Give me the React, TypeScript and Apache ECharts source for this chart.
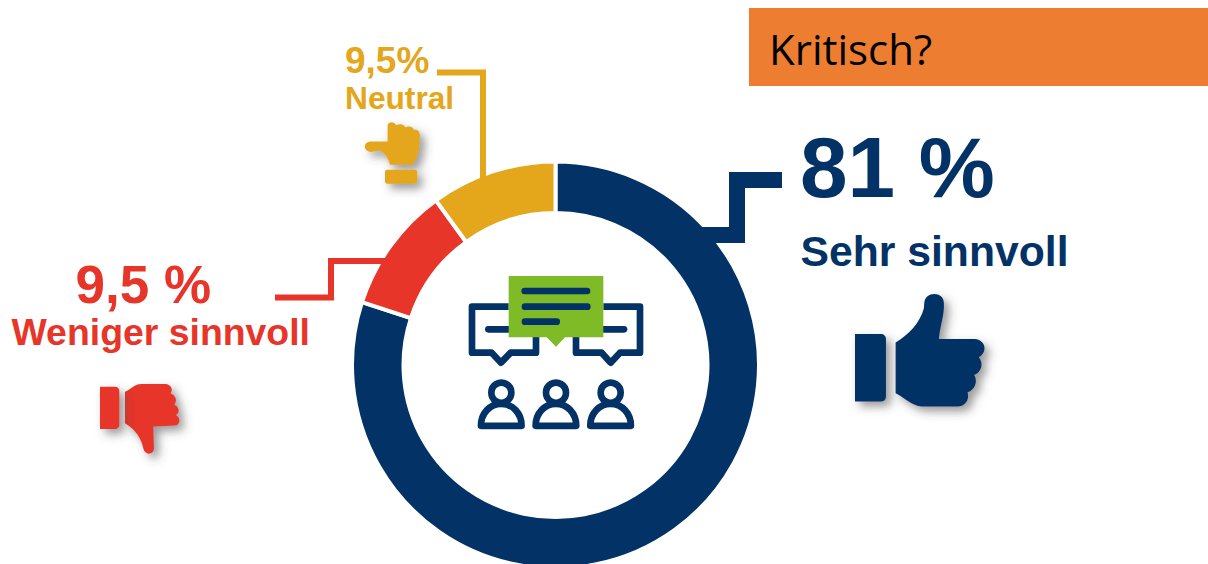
import React, { useEffect, useRef } from "react";
import * as echarts from "echarts";

const categories = ["Sehr sinnvoll", "Weniger sinnvoll", "Neutral"];
const sliceValues = [80, 10, 10];
const percentLabels = ["81 %", "9,5 %", "9,5%"];
const titleText = "Kritisch?";

const NAVY = "#033266";
const RED = "#E73529";
const GOLD = "#E4A61B";
const GREEN = "#7FBA27";
const ORANGE = "#ED7D31";

const thumbUpHand =
  "M167 188 C205 165 240 130 252 85 L253 70 C255 33 312 33 312 70 C314 105 300 140 297 177 L405 177 C437 180 445 215 417 232 C432 250 425 278 403 285 C415 305 405 330 383 337 C390 360 375 380 352 380 L245 380 C210 375 190 350 167 340 Z";
const thumbUpCuff = "M45 162 L122 162 C132 162 138 168 138 178 L138 350 C138 360 132 365 122 365 L45 365 Z";
const thumbDownHand =
  "M135 65 C150 62 160 42 185 42 L258 42 C275 45 280 60 272 70 C290 78 292 95 283 104 C300 112 300 128 288 135 C305 145 300 165 285 167 L220 170 L222 235 C222 255 195 258 190 235 C185 210 170 180 135 160 Z";
const thumbDownCuff = "M60 50 L105 50 C113 50 118 55 118 63 L118 165 C118 172 113 177 105 177 L60 177 Z";
const neutralHand =
  "M173 285 C178 272 195 276 199 286 C212 280 222 284 226 292 C240 286 250 292 252 300 C264 298 270 306 270 318 L268 350 C266 378 254 395 250 405 L180 405 C176 385 165 370 150 362 L122 366 C100 364 98 338 120 335 L173 335 Z";
const neutralCuff = "M172 420 L255 420 C260 420 262 423 262 428 L262 452 C262 458 258 462 252 462 L172 462 C167 462 165 458 165 453 L165 428 C165 423 167 420 172 420 Z";
const dome = "M123 498 C123 460 150 432 184 432 C218 432 245 460 245 498 Z";

const shapes: Record<string, string> = {
  thumbUpHand, thumbUpCuff, thumbDownHand, thumbDownCuff, neutralHand, neutralCuff, dome,
};
Object.keys(shapes).forEach((k) => {
  echarts.graphic.registerShape(k, echarts.graphic.extendPath(shapes[k], {}));
});

const arial = "'Liberation Sans', Arial, sans-serif";

function label(text: string, x: number, y: number, size: number, fill: string, family = arial, weight: any = "bold") {
  return {
    type: "text", x, y, silent: true,
    style: { text, fill, font: `${weight} ${size}px ${family}`, align: "left", verticalAlign: "middle" },
  };
}
function line(points: number[][], stroke: string, lineWidth: number, cap = "butt", join = "miter") {
  return {
    type: "polyline", silent: true,
    shape: { points },
    style: { stroke, lineWidth, fill: "none", lineCap: cap, lineJoin: join },
  };
}
function icon(type: string, ox: number, oy: number, fill: string) {
  return {
    type, x: ox, y: oy, scaleX: 1 / 3, scaleY: 1 / 3, silent: true,
    style: { fill, shadowBlur: 10, shadowColor: "rgba(70,70,70,0.55)", shadowOffsetX: 5, shadowOffsetY: 5 },
  };
}

// centre pictogram, given in 3x units around (440, 260)
const z = (x: number, y: number) => [440 + x / 3, 260 + y / 3];
function centreIcon() {
  const w = 20 / 3;
  const els: any[] = [];
  els.push(line([z(206, 140), z(96, 140), z(96, 278), z(155, 278), z(183, 308), z(212, 278), z(288, 278), z(288, 225)], NAVY, w, "butt", "round"));
  els.push(line([z(490, 140), z(600, 140), z(600, 278), z(540, 278), z(512, 308), z(485, 278), z(408, 278), z(408, 225)], NAVY, w, "butt", "round"));
  els.push(line([z(145, 208), z(215, 208)], NAVY, w, "round"));
  els.push(line([z(480, 208), z(552, 208)], NAVY, w, "round"));
  els.push({
    type: "polygon", silent: true,
    shape: { points: [z(206, 48), z(490, 48), z(490, 232), z(375, 232), z(348, 260), z(320, 232), z(206, 232)] },
    style: { fill: GREEN },
  });
  els.push(line([z(254, 93), z(441, 93)], NAVY, w, "round"));
  els.push(line([z(255, 140), z(442, 140)], NAVY, w, "round"));
  els.push(line([z(255, 185), z(350, 185)], NAVY, w, "round"));
  [0, 164, 328].forEach((dx) => {
    els.push({
      type: "circle", silent: true,
      shape: { cx: 440 + (184 + dx) / 3, cy: 260 + 398 / 3, r: 10 },
      style: { fill: "none", stroke: NAVY, lineWidth: w },
    });
    els.push({
      type: "dome", x: 440 + dx / 3, y: 260, scaleX: 1 / 3, scaleY: 1 / 3, silent: true,
      style: { fill: "none", stroke: NAVY, lineWidth: 20, lineJoin: "round" },
    });
  });
  return els;
}

export default function App() {
  const ref = useRef<HTMLDivElement>(null);
  useEffect(() => {
    const chart = echarts.init(ref.current!, undefined, { renderer: "svg" });
    const elements: any[] = [
      { type: "rect", silent: true, shape: { x: 749, y: 8, width: 459, height: 78 }, style: { fill: ORANGE } },
      label(titleText, 769, 48, 42, "#000000", "'Open Sans', sans-serif", "normal"),
      line([[702, 235], [737, 235], [737, 180], [782, 180]], NAVY, 16),
      line([[275, 297.5], [331, 297.5], [331, 261], [386, 261]], RED, 6),
      line([[437, 72.5], [483, 72.5], [483, 182]], GOLD, 6),
      label(percentLabels[0], 800, 167, 85.5, NAVY),
      label(categories[0], 800.5, 251, 42.7, NAVY),
      label(percentLabels[1], 75.5, 284, 53, RED),
      label(categories[1], 11.5, 332, 37.4, RED),
      label(percentLabels[2], 345, 60, 37, GOLD),
      label(categories[2], 345, 98, 31.7, GOLD),
      icon("thumbUpHand", 840, 280, NAVY),
      icon("thumbUpCuff", 840, 280, NAVY),
      icon("thumbDownHand", 80, 370, RED),
      icon("thumbDownCuff", 80, 370, RED),
      icon("neutralHand", 330, 30, GOLD),
      icon("neutralCuff", 330, 30, GOLD),
      ...centreIcon(),
    ];
    chart.setOption({
      animation: false,
      backgroundColor: "#ffffff",
      series: [
        {
          type: "pie",
          center: [555.5, 365],
          radius: [152, 203.5],
          startAngle: 90,
          clockwise: true,
          silent: true,
          label: { show: false },
          labelLine: { show: false },
          itemStyle: { borderColor: "#ffffff", borderWidth: 4 },
          data: categories.map((name, i) => ({
            name,
            value: sliceValues[i],
            itemStyle: { color: [NAVY, RED, GOLD][i] },
          })),
        },
      ],
      graphic: { elements: elements.map((e) => ({ ...e, z: 20 })) },
    });
    return () => chart.dispose();
  }, []);
  return <div ref={ref} style={{ position: "fixed", left: 0, top: 0, width: 1208, height: 564 }} />;
}
